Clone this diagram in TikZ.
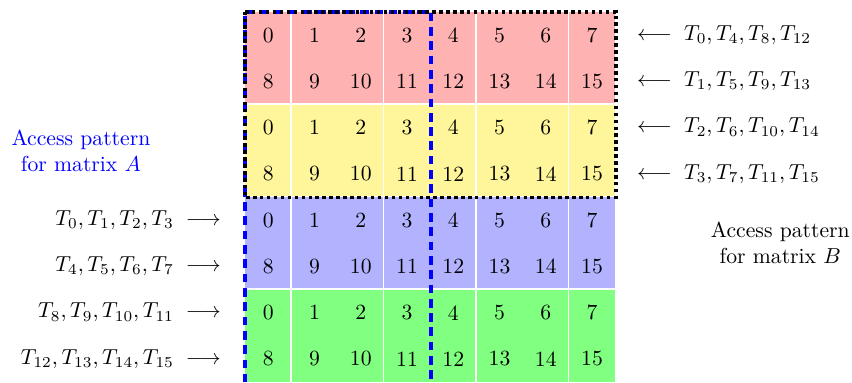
\documentclass[tikz,border=0pt]{standalone}
\usepackage{amsmath, amssymb}
\usepackage{tikz}
\usetikzlibrary{positioning, calc}
\definecolor{rowred}{RGB}{255, 178, 178}
\definecolor{rowyellow}{RGB}{255, 246, 155}
\definecolor{rowblue}{RGB}{178, 178, 255}
\definecolor{rowgreen}{RGB}{128, 255, 128}
\tikzset{
  cell/.style={rectangle, minimum size=0.75cm, inner sep=0pt, text centered, font=\normalsize},
  gridline/.style={white, line width=0.6pt},
  accessA/.style={blue, line width=1.8pt, dash pattern=on 4pt off 2.6pt},
  accessB/.style={black, line width=1.8pt, dash pattern=on 1.6pt off 1.6pt},
  threadsA/.style={anchor=east, font=\normalsize},
  threadsB/.style={anchor=west, font=\normalsize}
}

\begin{document}
\begin{tikzpicture}[x=0.75cm, y=0.75cm]
    \useasboundingbox (-5.30, -8.02) rectangle (13.12, 0.26);

    % 8x8 grid, two rows per colour band
    \foreach \r/\col in {0/rowred, 1/rowred, 2/rowyellow, 3/rowyellow, 4/rowblue, 5/rowblue, 6/rowgreen, 7/rowgreen} {
      \foreach \c in {0,...,7} {
        \pgfmathtruncatemacro{\val}{mod(\r,2)*8 + \c}
        \node[cell, fill=\col] (cell-\r-\c) at (\c+0.5, -\r-0.5) {\val};
      }
    }

    % white separators
    \foreach \c in {1, 3, 5, 7}
      \draw[gridline] (cell-0-\c.north west) -- (cell-7-\c.south west);
    \foreach \r in {2, 4, 6}
      \draw[gridline] (cell-\r-0.north west) -- (cell-\r-7.north east);

    % access regions
    \draw[accessA] (cell-7-0.south west) -- (cell-0-0.north west) -- (cell-0-3.north east) -- (cell-7-3.south east);
    \draw[accessB] (cell-0-0.north west) rectangle (cell-3-7.south east);

    % thread labels for matrix A (rows 4..7)
    \node[threadsA] (tA-4) at ($(cell-4-0.west)+(-0.35,0)$) {$T_0, T_1, T_2, T_3 \;\longrightarrow$};
    \node[threadsA] (tA-5) at ($(cell-5-0.west)+(-0.35,0)$) {$T_4, T_5, T_6, T_7 \;\longrightarrow$};
    \node[threadsA] (tA-6) at ($(cell-6-0.west)+(-0.35,0)$) {$T_8, T_9, T_{10}, T_{11} \;\longrightarrow$};
    \node[threadsA] (tA-7) at ($(cell-7-0.west)+(-0.35,0)$) {$T_{12}, T_{13}, T_{14}, T_{15} \;\longrightarrow$};

    % thread labels for matrix B (rows 0..3)
    \node[threadsB] (tB-0) at ($(cell-0-7.east)+(0.3,0)$) {$\longleftarrow\; T_0, T_4, T_8, T_{12}$};
    \node[threadsB] (tB-1) at ($(cell-1-7.east)+(0.3,0)$) {$\longleftarrow\; T_1, T_5, T_9, T_{13}$};
    \node[threadsB] (tB-2) at ($(cell-2-7.east)+(0.3,0)$) {$\longleftarrow\; T_2, T_6, T_{10}, T_{14}$};
    \node[threadsB] (tB-3) at ($(cell-3-7.east)+(0.3,0)$) {$\longleftarrow\; T_3, T_7, T_{11}, T_{15}$};

    \node[align=center, text=blue] (patA) at (-3.55, -3) {Access pattern\\for matrix $A$};
    \node[align=center] (patB) at (11.57, -5) {Access pattern\\for matrix $B$};
\end{tikzpicture}
\end{document}
